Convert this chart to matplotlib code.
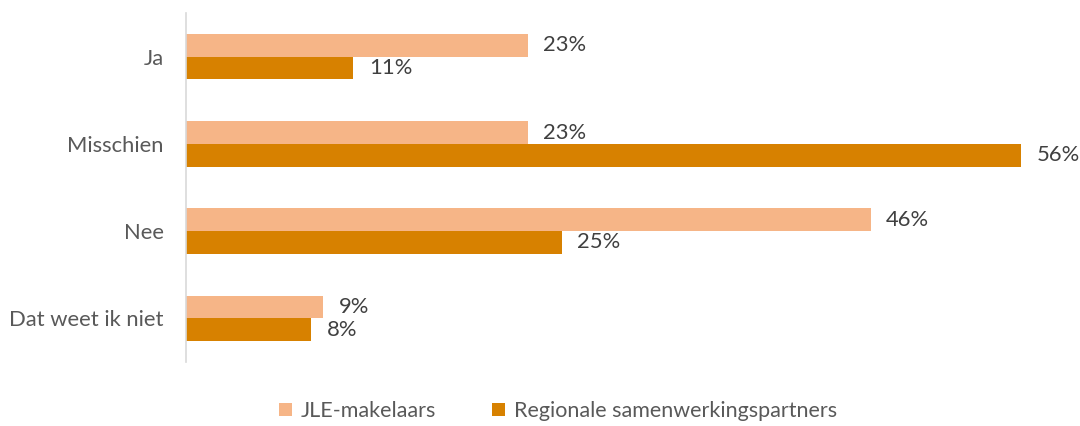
import matplotlib
matplotlib.use("Agg")
import matplotlib.pyplot as plt
from matplotlib.patches import Patch

categories = ["Ja", "Misschien", "Nee", "Dat weet ik niet"]
series_names = ["JLE-makelaars", "Regionale samenwerkingspartners"]
jle = [22.9, 22.9, 45.9, 9.2]
regionaal = [11.2, 56.0, 25.2, 8.4]
colors = ["#F6B587", "#D78100"]
text_color = "#404040"
tick_color = "#595959"

plt.rcParams['font.family'] = ['Lato', 'DejaVu Sans']

fig = plt.figure(figsize=(10.8, 4.26), dpi=100)
ax = fig.add_axes([186/1080, (426-362)/426, 865/1080, 349/426])

bh = 0.26
ypos = list(range(len(categories)))
b1 = ax.barh([y - bh/2 for y in ypos], jle, height=bh, color=colors[0])
b2 = ax.barh([y + bh/2 for y in ypos], regionaal, height=bh, color=colors[1])

for bars, vals in ((b1, jle), (b2, regionaal)):
    for rect, v in zip(bars, vals):
        ax.text(rect.get_width() + 1.05, rect.get_y() + rect.get_height()/2,
                f"{v:.0f}%", va="center", ha="left", fontsize=15.8, color=text_color)

ax.set_xlim(0, 58)
ax.set_ylim(3.5, -0.5)
ax.set_yticks(ypos)
ax.set_yticklabels(categories, fontsize=15.8, color=tick_color)
ax.tick_params(axis='y', length=0, pad=16)
ax.set_xticks([])
for s in ("top", "right", "bottom"):
    ax.spines[s].set_visible(False)
ax.spines["left"].set_color("#D9D9D9")
ax.spines["left"].set_linewidth(1.2)

handles = [Patch(facecolor=c, edgecolor='none') for c in colors]
fig.legend(handles, series_names, loc="center", bbox_to_anchor=(558/1080, 1 - 411/426),
           ncol=2, frameon=False, fontsize=15.5, handlelength=0.6, handleheight=0.6,
           handletextpad=0.4, columnspacing=2.6, labelcolor=tick_color)

fig.savefig("out.png", dpi=100)
